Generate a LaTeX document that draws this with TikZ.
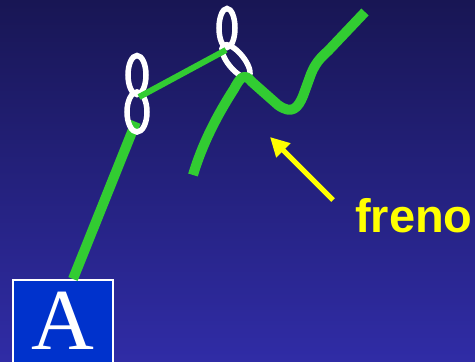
\documentclass[tikz,border=0pt]{standalone}
\usepackage{fontspec}
\usetikzlibrary{arrows.meta}
\newfontfamily\labelfont{Liberation Sans}
\newfontfamily\boxfont{Liberation Serif}
\definecolor{bgtop}{RGB}{24,22,84}
\definecolor{bgbottom}{RGB}{48,44,166}
\definecolor{ropegreen}{RGB}{50,204,50}
\definecolor{boxblue}{RGB}{0,50,204}
\definecolor{arrowyellow}{RGB}{255,255,0}

\begin{document}
\begin{tikzpicture}[x=1pt, y=-1pt,
  rope/.style={draw=ropegreen, line width=10pt, line join=round},
  thinrope/.style={draw=ropegreen, line width=6pt},
  carabiner/.style={draw=white, line width=5.5pt},
  letterbox/.style={draw=white, line width=1.5pt, fill=boxblue, inner sep=0pt,
    minimum width=100pt, minimum height=83pt, text=white},
  pointer/.style={draw=arrowyellow, line width=5pt,
    -{Triangle[length=19pt, width=19pt]}}]
  \useasboundingbox (0, 0) rectangle (475, 362);
  \shade[top color=bgtop, bottom color=bgbottom] (0, 0) rectangle (475, 362);

  \coordinate (K1up) at (137, 75);
  \coordinate (K1lo) at (137, 112);
  \coordinate (K2up) at (227, 28);
  \coordinate (K2lo) at (236, 61);
  \coordinate (J1) at (139, 97);
  \coordinate (J2) at (226, 50);
  \coordinate (Top1) at (136, 122);

  \node[letterbox, anchor=north] (boxA) at (63, 279)
    {\raisebox{-2pt}{\boxfont\fontsize{87}{87}\selectfont A}};

  \draw[rope] ([xshift=10pt]boxA.north) -- (Top1);

  \draw[carabiner] (K1up) ellipse [x radius=9, y radius=19.5];
  \draw[carabiner] (K1lo) ellipse [x radius=10, y radius=20];
  \draw[carabiner] (K2up) ellipse [x radius=8, y radius=19.5];
  \draw[carabiner, rotate around={39:(K2lo)}] (K2lo) ellipse [x radius=8, y radius=20];

  \draw[thinrope] (J1) -- (J2);

  \draw[rope] (193, 175) .. controls (202, 145) and (216, 117) .. (234, 89)
    .. controls (240, 78) and (244, 72) .. (252, 82)
    -- (278, 105) .. controls (292, 115) and (298, 108) .. (303, 96)
    -- (311, 74) .. controls (315, 64) and (320, 58) .. (328, 51)
    -- (365, 12);

  \node[anchor=base west, inner sep=0pt, text=arrowyellow] (freno) at (355, 232)
    {\labelfont\bfseries\fontsize{47}{47}\selectfont freno};
  \coordinate (tail) at (333, 200);
  \coordinate (tip) at (270, 137);
  \draw[pointer] (tail) -- (tip);
\end{tikzpicture}
\end{document}
